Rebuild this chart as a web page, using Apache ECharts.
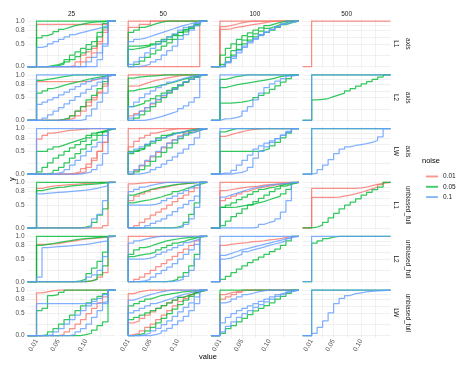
<!DOCTYPE html>
<html><head><meta charset="utf-8">
<script src="https://cdn.jsdelivr.net/npm/echarts@6/dist/echarts.min.js"></script>
<style>html,body{margin:0;padding:0;background:#fff}#c{width:458px;height:371px}</style>
</head><body><div id="c"></div>
<script>
// ---- data ----
const xGrid = [0.01,0.02,0.03,0.04,0.05,0.06,0.07,0.08,0.09,0.10,0.11,0.12,0.13,0.14];
const sizeLabels = ['25','50','100','500'];
const normLabels = ['L1','L2','LW','L1','L2','LW'];
const methodLabels = ['axis','axis','axis','unbiased_full','unbiased_full','unbiased_full'];
const noiseLevels = ['0.01','0.05','0.1'];
const xMajor = [0.01,0.05,0.10];
const xMinor = [0.03,0.075,0.125];
const yMajor = [0,0.5,0.8,1];
const yMinor = [0.25,0.65,0.9];
const allOne = [1,1,1,1,1,1,1,1,1,1,1,1,1,1];

const axis_L1_25 = [
 ['0.01',[0.93,0.93,0.93,0.93,0.93,0.93,0.93,0.93,0.93,0.93,0.93,0.93,0.93,1]],
 ['0.01',[0,0,0,0,0,0,0.02,0.1,0.25,0.32,0.4,0.55,0.75,1]],
 ['0.01',[0,0,0,0,0,0,0,0,0.1,0.2,0.3,0.5,0.8,1]],
 ['0.05',allOne],
 ['0.05',[0.63,0.68,0.72,0.77,0.82,0.86,0.9,0.92,0.95,0.97,0.98,0.99,1,1]],
 ['0.05',[0,0,0.02,0.04,0.08,0.15,0.25,0.32,0.4,0.48,0.55,0.75,0.95,1]],
 ['0.05',[0,0,0,0.02,0.05,0.1,0.15,0.22,0.3,0.38,0.45,0.65,0.85,1]],
 ['0.1',[0.42,0.45,0.5,0.55,0.6,0.65,0.7,0.74,0.77,0.8,0.83,0.86,0.9,1]],
 ['0.1',[0,0,0,0,0,0,0,0,0,0.1,0.2,0.3,0.45,1]],
 ['0.1',[0,0,0,0,0,0,0,0,0,0,0,0.15,0.5,1]]
];
const axis_L1_50 = [
 ['0.01',allOne],
 ['0.01',[0.86,0.86,0.93,0.93,1,1,1,1,1,1,1,1,1,1]],
 ['0.01',[0,0,0,0,0,0,0,0,0,0,0,0,0,1]],
 ['0.05',[0.75,0.8,0.86,0.9,0.94,0.97,1,1,1,1,1,1,1,1]],
 ['0.05',[0.45,0.45,0.46,0.47,0.48,0.5,0.55,0.6,0.68,0.75,0.82,0.88,0.94,1]],
 ['0.05',[0.38,0.4,0.42,0.45,0.5,0.55,0.6,0.65,0.7,0.75,0.8,0.85,0.9,1]],
 ['0.05',[0,0.05,0.12,0.2,0.28,0.36,0.45,0.52,0.6,0.68,0.76,0.84,0.92,1]],
 ['0.1',[0.55,0.6,0.62,0.66,0.7,0.74,0.78,0.82,0.86,0.9,0.93,0.96,0.98,1]],
 ['0.1',[0.05,0.1,0.2,0.3,0.4,0.5,0.58,0.65,0.72,0.8,0.86,0.9,0.95,1]],
 ['0.1',[0,0,0.02,0.05,0.1,0.15,0.25,0.35,0.45,0.6,0.7,0.8,0.9,1]]
];
const axis_L1_100 = [
 ['0.01',allOne],
 ['0.01',[0.82,0.83,0.86,0.88,0.9,0.92,0.94,0.96,0.98,1,1,1,1,1]],
 ['0.01',[0.88,0.9,0.93,0.96,0.98,1,1,1,1,1,1,1,1,1]],
 ['0.05',[0.25,0.4,0.5,0.6,0.68,0.74,0.8,0.85,0.9,0.94,0.97,1,1,1]],
 ['0.05',[0.05,0.2,0.35,0.48,0.58,0.66,0.72,0.78,0.84,0.88,0.92,0.96,1,1]],
 ['0.05',[0,0.1,0.25,0.38,0.5,0.58,0.65,0.7,0.75,0.8,0.86,0.92,0.96,1]],
 ['0.1',[0,0.1,0.22,0.35,0.45,0.55,0.62,0.7,0.76,0.82,0.88,0.94,1,1]],
 ['0.1',[0.02,0.08,0.18,0.3,0.42,0.52,0.6,0.68,0.75,0.82,0.88,0.93,0.97,1]]
];
const axis_L1_500 = [
 ['0.01',allOne]
];
const axis_L2_25 = [
 ['0.01',[0.85,0.85,0.85,0.85,0.85,0.85,0.85,0.85,0.85,0.87,0.9,0.93,0.97,1]],
 ['0.01',[0,0,0,0,0.02,0.05,0.1,0.2,0.3,0.4,0.5,0.62,0.8,1]],
 ['0.01',[0,0,0,0,0,0.02,0.05,0.1,0.2,0.32,0.45,0.6,0.75,1]],
 ['0.05',[0.88,0.9,0.92,0.94,0.96,0.98,1,1,1,1,1,1,1,1]],
 ['0.05',[0.6,0.65,0.7,0.73,0.77,0.8,0.83,0.86,0.89,0.92,0.94,0.96,0.98,1]],
 ['0.05',[0,0,0,0,0.02,0.05,0.1,0.2,0.3,0.45,0.55,0.7,0.85,1]],
 ['0.1',allOne],
 ['0.1',[0.35,0.4,0.45,0.5,0.56,0.62,0.68,0.74,0.8,0.85,0.9,0.94,0.97,1]],
 ['0.1',[0,0.05,0.12,0.2,0.28,0.36,0.44,0.52,0.6,0.68,0.76,0.84,0.92,1]],
 ['0.1',[0,0,0,0,0,0,0,0,0.02,0.1,0.25,0.4,0.6,1]]
];
const axis_L2_50 = [
 ['0.01',allOne],
 ['0.01',[0.75,0.76,0.8,0.84,0.88,0.9,0.93,0.95,0.97,0.99,1,1,1,1]],
 ['0.01',[0.1,0.15,0.2,0.28,0.36,0.45,0.54,0.62,0.7,0.78,0.85,0.9,0.95,1]],
 ['0.05',[0.93,0.95,0.96,0.97,0.98,0.99,1,1,1,1,1,1,1,1]],
 ['0.05',[0.65,0.68,0.7,0.72,0.74,0.77,0.8,0.83,0.86,0.9,0.93,0.96,0.98,1]],
 ['0.05',[0.3,0.34,0.38,0.43,0.48,0.54,0.6,0.66,0.72,0.78,0.84,0.9,0.95,1]],
 ['0.05',[0,0.05,0.12,0.2,0.3,0.4,0.5,0.6,0.68,0.76,0.84,0.9,0.95,1]],
 ['0.1',[0.3,0.4,0.5,0.58,0.65,0.72,0.78,0.84,0.88,0.92,0.95,0.98,1,1]],
 ['0.1',[0.05,0.12,0.2,0.28,0.38,0.46,0.55,0.62,0.7,0.78,0.85,0.9,0.95,1]],
 ['0.1',[0,0,0,0.02,0.05,0.08,0.12,0.16,0.2,0.26,0.32,0.4,0.5,1]]
];
const axis_L2_100 = [
 ['0.05',[0.9,0.93,0.96,0.98,1,1,1,1,1,1,1,1,1,1]],
 ['0.05',[0.72,0.75,0.78,0.8,0.82,0.84,0.86,0.88,0.9,0.93,0.96,0.98,1,1]],
 ['0.05',[0.38,0.38,0.39,0.4,0.42,0.45,0.5,0.55,0.6,0.68,0.76,0.84,0.92,1]],
 ['0.1',allOne],
 ['0.1',[0.03,0.04,0.06,0.1,0.2,0.3,0.45,0.6,0.72,0.8,0.86,0.92,0.97,1]]
];
const axis_L2_500 = [
 ['0.05',allOne],
 ['0.05',[0.45,0.46,0.48,0.52,0.56,0.6,0.65,0.7,0.75,0.8,0.85,0.9,0.95,1]],
 ['0.1',allOne]
];
const axis_LW_25 = [
 ['0.01',[0.77,0.85,0.9,0.92,0.94,0.96,0.97,0.98,0.99,1,1,1,1,1]],
 ['0.01',[0,0,0,0,0,0,0.02,0.05,0.12,0.22,0.35,0.5,0.7,1]],
 ['0.01',[0,0,0,0,0,0,0,0.02,0.05,0.15,0.3,0.5,0.7,1]],
 ['0.05',[0.5,0.5,0.55,0.6,0.64,0.68,0.72,0.76,0.8,0.85,0.9,0.94,0.97,1]],
 ['0.05',[0.05,0.15,0.25,0.35,0.42,0.5,0.58,0.65,0.72,0.8,0.86,0.92,0.96,1]],
 ['0.05',[0,0,0.03,0.08,0.15,0.25,0.35,0.45,0.55,0.65,0.75,0.85,0.93,1]],
 ['0.1',allOne],
 ['0.1',[0,0,0,0.02,0.05,0.1,0.2,0.3,0.4,0.5,0.6,0.7,0.85,1]],
 ['0.1',[0,0,0,0,0,0,0,0,0.02,0.05,0.1,0.2,0.45,1]]
];
const axis_LW_50 = [
 ['0.01',allOne],
 ['0.01',[0.6,0.72,0.8,0.85,0.9,0.93,0.96,0.98,1,1,1,1,1,1]],
 ['0.01',[0,0.08,0.18,0.28,0.38,0.48,0.58,0.68,0.76,0.84,0.9,0.95,0.98,1]],
 ['0.05',[0.5,0.52,0.55,0.65,0.72,0.8,0.85,0.88,0.9,0.92,0.95,0.97,0.99,1]],
 ['0.05',[0.45,0.5,0.56,0.62,0.68,0.74,0.8,0.85,0.9,0.93,0.96,0.98,1,1]],
 ['0.05',[0,0.05,0.1,0.18,0.28,0.38,0.48,0.58,0.68,0.78,0.86,0.92,0.96,1]],
 ['0.1',[0.48,0.55,0.6,0.66,0.72,0.78,0.82,0.86,0.9,0.93,0.95,0.97,0.99,1]],
 ['0.1',[0.05,0.1,0.2,0.3,0.4,0.5,0.6,0.68,0.75,0.82,0.88,0.92,0.96,1]],
 ['0.1',[0,0,0.02,0.05,0.1,0.15,0.22,0.3,0.38,0.46,0.55,0.65,0.8,1]]
];
const axis_LW_100 = [
 ['0.01',[0.83,0.87,0.9,0.93,0.96,0.98,0.99,1,1,1,1,1,1,1]],
 ['0.05',[0.93,0.97,1,1,1,1,1,1,1,1,1,1,1,1]],
 ['0.05',[0.5,0.5,0.5,0.5,0.5,0.5,0.5,0.52,0.56,0.62,0.7,0.8,0.9,1]],
 ['0.1',allOne],
 ['0.1',[0.02,0.03,0.08,0.2,0.3,0.42,0.55,0.62,0.68,0.73,0.78,0.85,0.92,1]],
 ['0.1',[0,0,0.02,0.04,0.08,0.15,0.35,0.5,0.6,0.7,0.78,0.86,0.94,1]]
];
const axis_LW_500 = [
 ['0.05',allOne],
 ['0.1',allOne],
 ['0.1',[0.02,0.1,0.2,0.32,0.45,0.55,0.6,0.63,0.65,0.67,0.7,0.74,0.82,1]]
];
const unb_L1_25 = [
 ['0.01',[0.87,0.9,0.92,0.93,0.94,0.95,0.96,0.97,0.98,0.98,0.99,1,1,1]],
 ['0.01',[0,0,0,0,0,0,0,0,0,0,0,0,0.05,1]],
 ['0.05',allOne],
 ['0.05',[0.82,0.85,0.87,0.89,0.9,0.92,0.93,0.94,0.95,0.96,0.97,0.98,0.99,1]],
 ['0.05',[0,0,0,0,0,0,0,0,0.02,0.05,0.12,0.28,0.42,1]],
 ['0.1',[0.75,0.76,0.77,0.78,0.79,0.8,0.81,0.82,0.83,0.85,0.87,0.9,0.93,1]],
 ['0.1',[0,0,0,0,0,0,0,0,0,0.02,0.2,0.3,0.6,1]]
];
const unb_L1_50 = [
 ['0.01',[0.97,0.98,0.99,1,1,1,1,1,1,1,1,1,1,1]],
 ['0.01',[0.6,0.7,0.75,0.8,0.85,0.88,0.9,0.93,0.95,0.97,0.98,0.99,1,1]],
 ['0.01',[0,0.05,0.12,0.2,0.28,0.35,0.42,0.5,0.58,0.65,0.72,0.8,0.88,1]],
 ['0.05',[0.72,0.76,0.8,0.84,0.87,0.9,0.92,0.94,0.96,0.97,0.98,0.99,1,1]],
 ['0.05',[0.55,0.58,0.6,0.62,0.65,0.68,0.72,0.75,0.8,0.84,0.88,0.92,0.96,1]],
 ['0.05',[0,0,0,0,0,0,0,0,0.02,0.05,0.12,0.3,0.55,1]],
 ['0.1',[0.8,0.85,0.9,0.93,0.96,0.98,1,1,1,1,1,1,1,1]],
 ['0.1',[0.5,0.5,0.5,0.5,0.52,0.55,0.6,0.65,0.7,0.76,0.82,0.88,0.94,1]],
 ['0.1',[0,0,0,0.05,0.1,0.15,0.2,0.28,0.36,0.44,0.52,0.6,0.7,1]],
 ['0.1',[0,0,0,0,0,0,0,0,0,0.02,0.08,0.2,0.45,1]]
];
const unb_L1_100 = [
 ['0.01',allOne],
 ['0.01',[0.82,0.84,0.86,0.88,0.9,0.91,0.92,0.94,0.95,0.96,0.97,0.98,0.99,1]],
 ['0.01',[0.6,0.65,0.7,0.75,0.8,0.84,0.88,0.9,0.92,0.94,0.96,0.98,0.99,1]],
 ['0.05',[0.45,0.5,0.55,0.62,0.68,0.74,0.8,0.85,0.88,0.9,0.93,0.96,0.98,1]],
 ['0.05',[0.05,0.15,0.25,0.32,0.42,0.5,0.58,0.65,0.72,0.8,0.86,0.92,0.96,1]],
 ['0.05',[0.45,0.45,0.46,0.48,0.5,0.52,0.55,0.58,0.62,0.66,0.7,0.75,0.85,1]],
 ['0.1',[0.68,0.72,0.76,0.8,0.84,0.87,0.9,0.92,0.94,0.96,0.97,0.98,0.99,1]],
 ['0.1',[0,0,0,0,0,0,0.02,0.08,0.12,0.15,0.2,0.35,0.6,1]]
];
const unb_L1_500 = [
 ['0.01',[0.87,0.87,0.87,0.87,0.87,0.87,0.87,0.87,0.88,0.9,0.93,0.96,0.98,1]],
 ['0.01',[0.67,0.67,0.67,0.67,0.68,0.7,0.72,0.75,0.78,0.82,0.86,0.9,0.95,1]],
 ['0.05',[0.02,0.06,0.12,0.22,0.32,0.42,0.5,0.57,0.64,0.72,0.78,0.84,0.9,1]]
];
const unb_L2_25 = [
 ['0.01',[0.82,0.82,0.83,0.84,0.86,0.88,0.9,0.92,0.94,0.95,0.96,0.97,0.98,1]],
 ['0.01',[0,0,0,0,0,0,0,0,0,0.02,0.05,0.1,0.2,1]],
 ['0.05',allOne],
 ['0.05',[0.8,0.82,0.84,0.86,0.88,0.9,0.92,0.94,0.95,0.96,0.97,0.98,0.99,1]],
 ['0.05',[0,0,0,0,0,0,0,0.02,0.06,0.18,0.3,0.45,0.65,1]],
 ['0.05',[0,0,0,0,0,0,0,0,0,0.02,0.05,0.15,0.35,1]],
 ['0.1',[0.1,0.75,0.76,0.77,0.78,0.79,0.8,0.81,0.82,0.84,0.86,0.88,0.9,1]],
 ['0.1',[0,0,0,0,0,0,0,0,0.02,0.1,0.15,0.25,0.55,1]]
];
const unb_L2_50 = [
 ['0.01',allOne],
 ['0.01',[0,0.05,0.1,0.18,0.25,0.33,0.4,0.48,0.56,0.64,0.72,0.8,0.9,1]],
 ['0.05',[0.6,0.7,0.75,0.78,0.82,0.86,0.9,0.92,0.94,0.96,0.97,0.98,0.99,1]],
 ['0.05',[0.55,0.58,0.6,0.62,0.65,0.7,0.75,0.8,0.85,0.88,0.92,0.95,0.98,1]],
 ['0.05',[0,0,0,0,0,0,0,0.02,0.05,0.1,0.2,0.35,0.6,1]],
 ['0.1',[0.85,0.9,0.93,0.96,0.98,1,1,1,1,1,1,1,1,1]],
 ['0.1',[0.5,0.5,0.5,0.52,0.55,0.6,0.65,0.7,0.75,0.8,0.86,0.9,0.94,1]],
 ['0.1',[0,0,0.02,0.05,0.1,0.18,0.25,0.32,0.4,0.5,0.6,0.7,0.82,1]],
 ['0.1',[0,0,0,0,0,0,0,0,0.02,0.05,0.12,0.25,0.5,1]]
];
const unb_L2_100 = [
 ['0.01',[0.8,0.82,0.84,0.85,0.86,0.88,0.89,0.9,0.92,0.93,0.95,0.97,0.99,1]],
 ['0.05',[0.05,0.12,0.2,0.28,0.35,0.42,0.48,0.54,0.6,0.66,0.72,0.8,0.9,1]],
 ['0.1',allOne],
 ['0.1',[0.5,0.52,0.56,0.6,0.66,0.7,0.73,0.76,0.8,0.83,0.86,0.9,0.95,1]],
 ['0.1',[0.58,0.62,0.66,0.7,0.73,0.76,0.79,0.82,0.85,0.88,0.91,0.94,0.97,1]]
];
const unb_L2_500 = [
 ['0.05',[0.85,0.9,0.95,0.98,1,1,1,1,1,1,1,1,1,1]],
 ['0.1',allOne]
];
const unb_LW_25 = [
 ['0.01',[0.94,0.96,0.98,1,1,1,1,1,1,1,1,1,1,1]],
 ['0.01',[0,0,0,0,0.02,0.08,0.15,0.25,0.35,0.48,0.6,0.72,0.85,1]],
 ['0.05',[0.55,0.6,0.88,0.9,0.95,1,1,1,1,1,1,1,1,1]],
 ['0.05',[0,0.02,0.08,0.15,0.25,0.35,0.45,0.55,0.65,0.72,0.8,0.86,0.92,1]],
 ['0.05',[0,0,0,0,0,0,0,0,0.02,0.05,0.12,0.22,0.3,1]],
 ['0.1',[0.7,0.7,0.7,0.7,0.7,0.7,0.7,0.7,0.7,0.7,0.7,0.72,0.75,1]],
 ['0.1',[0,0,0.02,0.08,0.15,0.25,0.35,0.45,0.55,0.65,0.75,0.82,0.9,1]],
 ['0.1',[0,0,0,0,0,0,0.02,0.08,0.15,0.25,0.4,0.55,0.7,1]]
];
const unb_LW_50 = [
 ['0.01',[0.92,0.96,0.98,1,1,1,1,1,1,1,1,1,1,1]],
 ['0.01',[0.28,0.32,0.38,0.45,0.52,0.6,0.66,0.72,0.78,0.84,0.88,0.92,0.96,1]],
 ['0.01',[0.02,0.05,0.1,0.18,0.25,0.35,0.45,0.55,0.65,0.75,0.82,0.9,0.95,1]],
 ['0.05',[0.65,0.7,0.75,0.8,0.84,0.88,0.9,0.92,0.94,0.96,0.97,0.98,0.99,1]],
 ['0.05',[0.35,0.4,0.45,0.5,0.55,0.6,0.66,0.72,0.78,0.84,0.88,0.92,0.96,1]],
 ['0.05',[0,0.02,0.05,0.1,0.18,0.28,0.38,0.48,0.58,0.68,0.78,0.86,0.94,1]],
 ['0.1',[0.78,0.82,0.86,0.9,0.93,0.96,0.98,1,1,1,1,1,1,1]],
 ['0.1',[0.5,0.55,0.6,0.65,0.7,0.74,0.78,0.82,0.86,0.9,0.93,0.96,0.98,1]],
 ['0.1',[0,0,0.02,0.05,0.1,0.16,0.24,0.32,0.42,0.52,0.62,0.72,0.85,1]],
 ['0.1',[0,0,0,0,0.02,0.05,0.1,0.16,0.24,0.32,0.42,0.55,0.7,1]]
];
const unb_LW_100 = [
 ['0.01',[0.9,0.94,0.96,0.98,1,1,1,1,1,1,1,1,1,1]],
 ['0.01',[0.8,0.85,0.9,0.95,1,1,1,1,1,1,1,1,1,1]],
 ['0.05',allOne],
 ['0.05',[0.05,0.15,0.22,0.3,0.38,0.46,0.54,0.6,0.66,0.72,0.8,0.86,0.93,1]],
 ['0.1',[0.72,0.75,0.8,0.85,0.9,0.93,0.96,0.98,1,1,1,1,1,1]],
 ['0.1',[0.28,0.4,0.48,0.55,0.6,0.65,0.7,0.75,0.8,0.85,0.9,0.94,0.97,1]],
 ['0.1',[0.08,0.2,0.3,0.4,0.48,0.55,0.62,0.68,0.74,0.8,0.86,0.91,0.96,1]]
];
const unb_LW_500 = [
 ['0.05',allOne],
 ['0.1',allOne],
 ['0.1',[0.05,0.18,0.32,0.5,0.7,0.82,0.88,0.92,0.94,0.96,0.97,0.98,0.99,1]]
];

const panels = [
 [axis_L1_25, axis_L1_50, axis_L1_100, axis_L1_500],
 [axis_L2_25, axis_L2_50, axis_L2_100, axis_L2_500],
 [axis_LW_25, axis_LW_50, axis_LW_100, axis_LW_500],
 [unb_L1_25, unb_L1_50, unb_L1_100, unb_L1_500],
 [unb_L2_25, unb_L2_50, unb_L2_100, unb_L2_500],
 [unb_LW_25, unb_LW_50, unb_LW_100, unb_LW_500]
];

// ---- layout / style ----
const colors = {'0.01':'#F8766D','0.05':'#00BA38','0.1':'#619CFF'};
const FONT = 'Liberation Sans, Arial, sans-serif';
const L0 = 27.5, CP = 91.7, GW = 88, T0 = 18.8, RP = 53.8, GH = 50;
const XMIN = -0.0064, XMAX = 0.1536, YMIN = -0.05, YMAX = 1.05;
const padLeftCols = [true, false, true, true];

const grids = [], xAxes = [], yAxes = [], series = [], graphics = [];
let k = 0;
for (let r = 0; r < 6; r++) {
  for (let c = 0; c < 4; c++) {
    grids.push({left: L0 + c*CP, top: T0 + r*RP, width: GW, height: GH, outerBoundsMode: 'none', containLabel: false});
    xAxes.push({
      type: 'value', gridIndex: k, min: XMIN, max: XMAX,
      axisLine: {show: false},
      axisTick: {show: false, customValues: xMajor.concat(xMinor)},
      splitLine: {show: true, lineStyle: {color: '#ebebeb', width: 0.7}},
      axisLabel: {show: r === 5, customValues: xMajor, rotate: 60, margin: 2,
        fontSize: 6.5, color: '#4d4d4d', fontFamily: FONT,
        formatter: v => v.toFixed(2)}
    });
    yAxes.push({
      type: 'value', gridIndex: k, min: YMIN, max: YMAX,
      axisLine: {show: false},
      axisTick: {show: false, customValues: yMajor.concat(yMinor)},
      splitLine: {show: true, lineStyle: {color: '#ebebeb', width: 0.7}},
      axisLabel: {show: c === 0, customValues: yMajor, margin: 3,
        fontSize: 6.5, color: '#4d4d4d', fontFamily: FONT,
        formatter: v => v.toFixed(1)}
    });
    const startX = padLeftCols[c] ? XMIN : xGrid[0];
    noiseLevels.forEach((nz, zi) => {
      panels[r][c].filter(cv => cv[0] === nz).forEach(cv => {
        const ys = cv[1];
        const data = [[startX, 0]].concat(xGrid.map((x, i) => [x, ys[i]]), [[XMAX, ys[ys.length-1]]]);
        series.push({
          type: 'line', name: nz, xAxisIndex: k, yAxisIndex: k, data,
          step: 'end', symbol: 'none', showSymbol: false, silent: true,
          z: 2 + zi, animation: false, clip: true,
          lineStyle: {color: colors[nz], width: 1.25, opacity: 0.8},
          itemStyle: {color: colors[nz], opacity: 0.75}
        });
      });
    });
    k++;
  }
}

// strip labels
sizeLabels.forEach((s, c) => {
  graphics.push({type: 'text', x: L0 + c*CP + GW/2, y: 14,
    style: {text: s, fontSize: 6.5, fill: '#1a1a1a', align: 'center', verticalAlign: 'middle', fontFamily: FONT}});
});
for (let r = 0; r < 6; r++) {
  const cy = T0 + r*RP + GH/2;
  graphics.push({type: 'text', x: 396, y: cy, rotation: -Math.PI/2,
    style: {text: normLabels[r], fontSize: 6.5, fill: '#1a1a1a', align: 'center', verticalAlign: 'middle', fontFamily: FONT}});
  graphics.push({type: 'text', x: 408, y: cy, rotation: -Math.PI/2,
    style: {text: methodLabels[r], fontSize: 6.5, fill: '#1a1a1a', align: 'center', verticalAlign: 'middle', fontFamily: FONT}});
}
graphics.push({type: 'text', x: 208, y: 357,
  style: {text: 'value', fontSize: 7.5, fill: '#000', align: 'center', verticalAlign: 'middle', fontFamily: FONT}});
graphics.push({type: 'text', x: 12, y: 179, rotation: Math.PI/2,
  style: {text: 'y', fontSize: 7.5, fill: '#000', align: 'center', verticalAlign: 'middle', fontFamily: FONT}});
graphics.push({type: 'text', x: 422, y: 161,
  style: {text: 'noise', fontSize: 7.5, fill: '#000', align: 'left', verticalAlign: 'middle', fontFamily: FONT}});

const chart = echarts.init(document.getElementById('c'), null, {renderer: 'canvas'});
chart.setOption({
  animation: false,
  backgroundColor: '#fff',
  grid: grids, xAxis: xAxes, yAxis: yAxes, series,
  legend: {data: noiseLevels, orient: 'vertical', left: 421, top: 168,
    icon: 'path://M0,42H100V58H0Z',
    itemWidth: 12, itemHeight: 8, itemGap: 3.3, selectedMode: false,
    textStyle: {fontSize: 6.5, color: '#1a1a1a', fontFamily: FONT}},
  graphic: graphics
});
</script></body></html>
